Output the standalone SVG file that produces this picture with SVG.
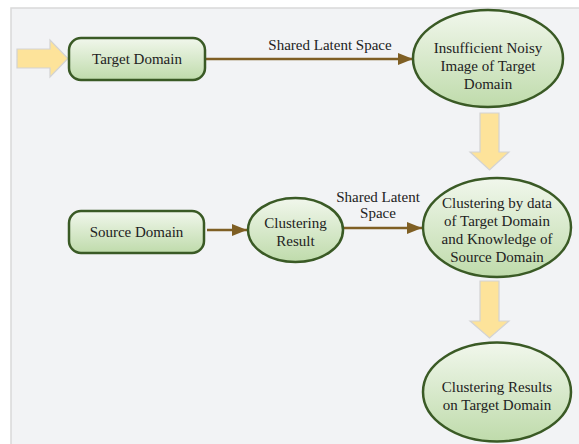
<svg xmlns="http://www.w3.org/2000/svg" width="579" height="444" viewBox="0 0 579 444">
  <defs>
    <linearGradient id="nodeFill" x1="0" y1="0" x2="0" y2="1">
      <stop offset="0" stop-color="#f1f7ec"/>
      <stop offset="1" stop-color="#bfdbab"/>
    </linearGradient>
    <marker id="arrowHead" viewBox="0 0 10 10" refX="10" refY="5" markerWidth="6" markerHeight="6" markerUnits="strokeWidth" orient="auto">
      <path d="M0,1 L10,5 L0,9 Z" fill="#7f5f24"/>
    </marker>
  </defs>
  <style>
    .panel { fill: #f2f3f5; stroke: #d9d9d9; stroke-width: 1.5; }
    .node { fill: url(#nodeFill); stroke: #3a5a25; stroke-width: 2.5; }
    .label { font-family: "Liberation Serif", "Times New Roman", serif; font-size: 15px; fill: #222; text-anchor: middle; }
    .edge { stroke: #7f5f24; stroke-width: 2.5; fill: none; marker-end: url(#arrowHead); }
    .block { fill: #fde39a; stroke: #d3d3d3; stroke-width: 1.2; }
  </style>

  <rect class="panel" x="11" y="8" width="580" height="450"/>

  <!-- block arrows -->
  <g id="blockArrows">
    <path class="block" d="M17,49 L50,49 L50,40 L68,58.5 L50,77 L50,68 L17,68 Z"/>
    <path class="block" d="M480,113 L499,113 L499,152 L509,152 L489.5,170 L470,152 L480,152 Z"/>
    <path class="block" d="M480,281 L499,281 L499,321 L509,321 L489.5,338 L470,321 L480,321 Z"/>
  </g>

  <!-- connectors -->
  <g id="connectors">
    <line class="edge" x1="205" y1="59" x2="413" y2="59"/>
    <text class="label" x="330" y="50">Shared Latent Space</text>
    <line class="edge" x1="207" y1="230" x2="247" y2="230"/>
    <line class="edge" x1="343" y1="228" x2="422" y2="228"/>
    <text class="label" x="378" y="202">Shared Latent</text>
    <text class="label" x="378" y="218">Space</text>
  </g>

  <g id="targetDomain">
    <rect class="node" x="69" y="38" width="136" height="42" rx="12"/>
    <text class="label" x="137" y="64">Target Domain</text>
  </g>

  <g id="noisyImage">
    <ellipse class="node" cx="488" cy="58.5" rx="75" ry="48.5"/>
    <text class="label" x="488" y="53">Insufficient Noisy</text>
    <text class="label" x="488" y="71">Image of Target</text>
    <text class="label" x="488" y="89">Domain</text>
  </g>

  <g id="sourceDomain">
    <rect class="node" x="69" y="211" width="135" height="42" rx="12"/>
    <text class="label" x="136.5" y="237">Source Domain</text>
  </g>

  <g id="clusteringResult">
    <ellipse class="node" cx="295.5" cy="230" rx="47.5" ry="32"/>
    <text class="label" x="295.5" y="228">Clustering</text>
    <text class="label" x="295.5" y="246">Result</text>
  </g>

  <g id="jointClustering">
    <ellipse class="node" cx="497" cy="227.5" rx="74" ry="49.5"/>
    <text class="label" x="497" y="208">Clustering by data</text>
    <text class="label" x="497" y="226">of Target Domain</text>
    <text class="label" x="497" y="244">and Knowledge of</text>
    <text class="label" x="497" y="262">Source Domain</text>
  </g>

  <g id="finalResults">
    <ellipse class="node" cx="497" cy="392" rx="74" ry="49.5"/>
    <text class="label" x="497" y="392">Clustering Results</text>
    <text class="label" x="497" y="410">on Target Domain</text>
  </g>
</svg>
